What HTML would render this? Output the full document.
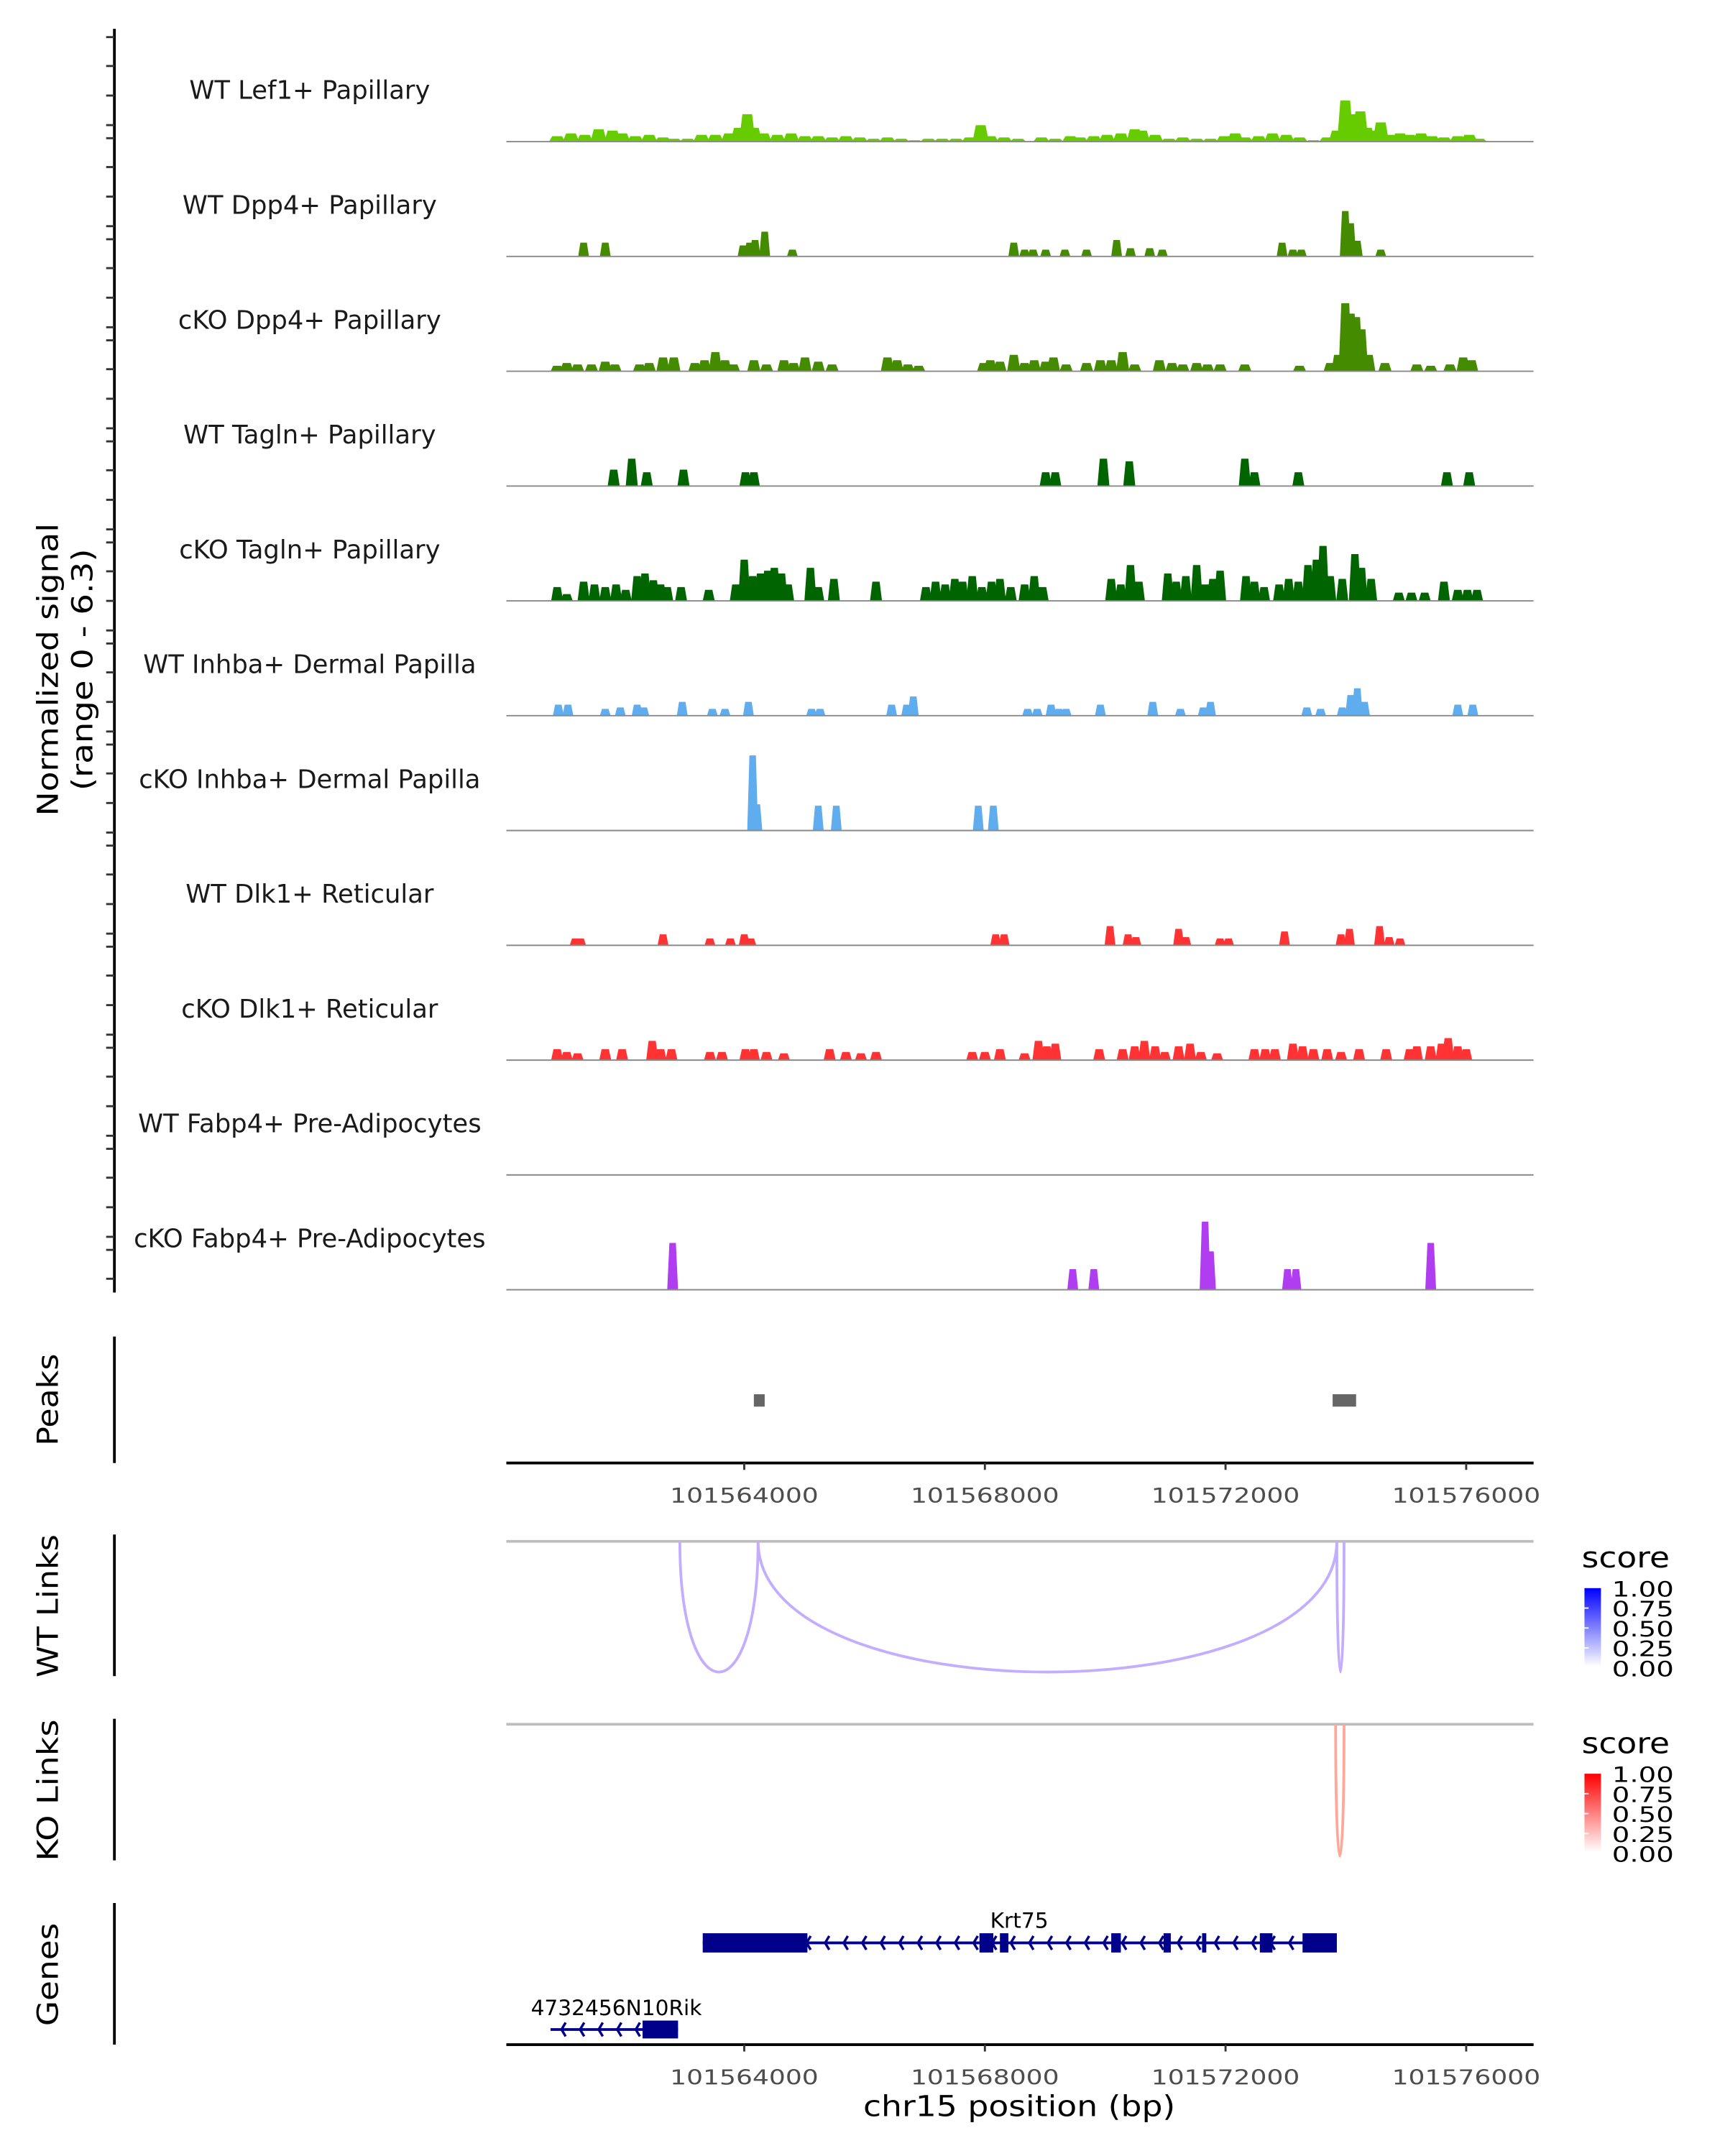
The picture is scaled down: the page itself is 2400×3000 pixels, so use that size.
<!DOCTYPE html>
<html><head><meta charset="utf-8"><style>
html,body{margin:0;padding:0;background:#fff;}
svg{display:block;}
text{font-family:"DejaVu Sans","Liberation Sans",sans-serif;}
</style></head><body>
<svg id="chart" xmlns="http://www.w3.org/2000/svg" width="2400" height="3000" viewBox="0 0 1254 1568">
<rect x="0" y="0" width="1254" height="1568" fill="#fff"/>
</svg>
<script>
// ---------- data (positions in kb offset from 101560000) ----------
const trackNames = ["WT Lef1+ Papillary","WT Dpp4+ Papillary","cKO Dpp4+ Papillary","WT Tagln+ Papillary","cKO Tagln+ Papillary","WT Inhba+ Dermal Papilla","cKO Inhba+ Dermal Papilla","WT Dlk1+ Reticular","cKO Dlk1+ Reticular","WT Fabp4+ Pre-Adipocytes","cKO Fabp4+ Pre-Adipocytes"];
const lef1Pos = [0.89,1.12,1.35,1.58,1.81,1.97,2.19,2.42,2.65,2.83,3.06,3.29,3.52,3.75,3.91,4.05,4.16,4.32,4.55,4.78,5.01,5.23,5.46,5.69,5.92,6.15,6.38,6.61,6.83,7.06,7.29,7.52,7.75,7.93,8.09,8.32,8.55,8.94,9.17,9.42,9.58,9.81,10.03,10.26,10.49,10.61,10.83,11.06,11.29,11.52,11.75,11.98,12.16,12.32,12.55,12.78,13.01,13.23,13.46,13.69,13.85,13.99,14.13,14.24,14.35,14.49,14.58,14.72,14.9,15.06,15.25,15.43,15.63,15.86,16.05,16.21];
const lef1Val = [0.31,0.47,0.39,0.71,0.63,0.47,0.31,0.39,0.24,0.16,0.16,0.39,0.39,0.47,0.79,1.57,0.79,0.47,0.39,0.47,0.31,0.31,0.24,0.31,0.24,0.16,0.24,0.16,0.08,0.16,0.16,0.16,0.24,0.94,0.31,0.24,0.16,0.24,0.16,0.31,0.24,0.31,0.39,0.47,0.71,0.63,0.39,0.16,0.24,0.16,0.16,0.31,0.47,0.24,0.31,0.47,0.39,0.24,0.08,0.24,0.63,2.36,1.57,1.73,0.79,0.63,1.10,0.39,0.47,0.39,0.47,0.31,0.24,0.31,0.39,0.16];
const wtDppPos = [1.33,1.69,3.98,4.09,4.18,4.34,4.8,8.48,8.66,8.8,9.01,9.33,9.69,10.19,10.42,10.74,10.95,12.94,13.12,13.26,13.99,14.08,14.19,14.58];
const wtDppVal = [0.79,0.79,0.63,0.79,0.94,1.42,0.39,0.79,0.39,0.39,0.39,0.39,0.39,0.94,0.47,0.47,0.39,0.79,0.39,0.39,2.6,1.9,0.9,0.39];
const koDppPos = [0.89,1.05,1.23,1.46,1.69,1.85,2.26,2.42,2.65,2.83,3.18,3.34,3.52,3.68,3.82,4.16,4.37,4.66,4.82,5.01,5.23,5.46,6.38,6.54,6.72,6.9,7.98,8.09,8.25,8.48,8.66,8.82,9.01,9.14,9.35,9.69,9.92,10.1,10.29,10.49,10.9,11.11,11.29,11.52,11.7,11.91,12.32,13.23,13.74,13.87,13.99,14.08,14.17,14.26,14.38,14.65,15.18,15.41,15.73,15.95,16.09];
const koDppVal = [0.31,0.47,0.39,0.39,0.55,0.39,0.39,0.47,0.79,0.79,0.47,0.63,1.1,0.63,0.39,0.63,0.39,0.63,0.47,0.79,0.55,0.39,0.79,0.63,0.39,0.31,0.47,0.63,0.55,0.94,0.47,0.63,0.55,0.79,0.39,0.47,0.63,0.63,1.1,0.39,0.63,0.47,0.39,0.47,0.39,0.39,0.39,0.31,0.47,0.94,3.9,3.3,3.1,2.4,0.94,0.47,0.39,0.31,0.39,0.79,0.63];
const wtTagPos = [1.83,2.13,2.38,2.99,4.02,4.16,9.01,9.17,9.97,10.4,12.32,12.48,13.21,15.68,16.05];
const wtTagVal = [0.94,1.57,0.79,0.94,0.79,0.79,0.79,0.79,1.57,1.42,1.57,0.79,0.79,0.79,0.79];
const koTagPos = [0.89,1.05,1.33,1.51,1.69,1.87,2.03,2.22,2.35,2.49,2.61,2.72,2.95,3.41,3.86,4.0,4.14,4.27,4.39,4.5,4.62,4.73,5.1,5.23,5.49,6.19,7.02,7.18,7.34,7.5,7.63,7.79,7.95,8.11,8.25,8.43,8.66,8.82,8.96,10.1,10.26,10.42,10.56,11.04,11.18,11.34,11.52,11.66,11.79,11.91,12.34,12.48,12.64,12.89,13.05,13.21,13.37,13.51,13.62,13.74,13.94,14.15,14.26,14.42,14.88,15.09,15.31,15.63,15.86,16.02,16.18];
const koTagVal = [0.79,0.39,1.1,0.94,0.79,0.94,0.63,1.42,1.57,1.18,0.94,0.79,0.79,0.63,0.94,2.36,1.42,1.57,1.73,1.89,1.57,0.94,1.89,0.79,1.26,1.1,0.79,1.1,0.94,1.26,1.1,1.42,0.79,1.1,1.26,0.79,0.94,1.42,0.79,1.26,0.94,2.05,1.1,1.57,1.1,1.42,2.05,0.94,1.26,1.73,1.42,1.1,0.79,0.94,1.26,1.1,2.05,2.36,3.15,1.42,1.26,2.68,1.89,1.26,0.47,0.47,0.47,1.1,0.63,0.63,0.63];
const wtInhPos = [0.91,1.07,1.69,1.94,2.22,2.33,2.97,3.47,3.68,4.07,5.12,5.26,6.45,6.7,6.81,8.71,8.87,9.1,9.23,9.35,9.92,10.79,11.25,11.63,11.75,13.35,13.58,13.94,14.08,14.19,14.31,15.86,16.11];
const wtInhVal = [0.63,0.63,0.39,0.47,0.63,0.47,0.79,0.39,0.39,0.79,0.39,0.39,0.63,0.63,1.1,0.39,0.39,0.63,0.39,0.39,0.63,0.79,0.39,0.47,0.79,0.47,0.39,0.47,1.18,1.57,0.79,0.63,0.63];
const koInhPos = [4.14,4.21,5.23,5.53,7.89,8.14];
const koInhVal = [4.3,1.5,1.42,1.42,1.42,1.42];
const wtDlkPos = [1.19,1.28,2.65,3.43,3.77,4.0,4.11,8.18,8.32,10.08,10.38,10.51,11.22,11.34,11.91,12.05,12.98,13.92,14.06,14.56,14.72,14.9];
const wtDlkVal = [0.39,0.39,0.63,0.39,0.39,0.63,0.39,0.63,0.63,1.1,0.63,0.47,0.94,0.47,0.39,0.39,0.79,0.63,0.94,1.1,0.47,0.39];
const koDlkPos = [0.89,1.05,1.23,1.69,1.97,2.47,2.61,2.79,3.43,3.63,4.02,4.16,4.37,4.66,5.42,5.69,5.94,6.19,7.79,8.0,8.25,8.66,8.89,9.03,9.17,9.9,10.29,10.49,10.65,10.83,10.99,11.22,11.41,11.59,11.86,12.48,12.66,12.82,13.12,13.28,13.46,13.69,13.92,14.22,14.67,15.06,15.18,15.41,15.59,15.7,15.86,16.0];
const koDlkVal = [0.63,0.47,0.39,0.63,0.63,1.1,0.63,0.63,0.47,0.47,0.63,0.63,0.47,0.39,0.63,0.47,0.39,0.47,0.47,0.47,0.63,0.39,1.1,0.79,0.94,0.63,0.63,0.79,1.1,0.79,0.47,0.79,0.94,0.47,0.39,0.63,0.63,0.63,0.94,0.79,0.63,0.63,0.47,0.63,0.63,0.63,0.79,0.79,0.94,1.26,0.79,0.63];
const wtFabPos = [];
const wtFabVal = [];
const koFabPos = [2.81,9.46,9.81,11.66,11.75,13.03,13.17,15.41];
const koFabVal = [2.68,1.18,1.18,3.9,2.2,1.18,1.18,2.68];
const peakStart = [4.16,13.78];
const peakEnd = [4.34,14.17];
const wtLinkStart = [2.93,4.23,13.85];
const wtLinkEnd = [4.23,13.85,13.97];
const wtLinkScore = [0.4,0.4,0.4];
const koLinkStart = [13.83];
const koLinkEnd = [13.97];
const koLinkScore = [0.4];
const xTickKb = [4,8,12,16];
const xTickLabels = ["101564000","101568000","101572000","101576000"];
const legendLabels = ["1.00","0.75","0.50","0.25","0.00"];
const krtExonStart = [3.31,7.91,8.25,10.1,10.97,11.61,12.57,13.28];
const krtExonEnd = [5.05,8.14,8.39,10.26,11.09,11.68,12.78,13.85];
const rikExonStart = [2.31];
const rikExonEnd = [2.9];

// ---------- helpers ----------
const NS = "http://www.w3.org/2000/svg";
const svg = document.getElementById('chart');
const X0 = 541, PXKB = 43.75;
function xs(kb){ return X0 + (kb - 4) * PXKB; }
function mk(tag, attrs, parent){ const e = document.createElementNS(NS, tag); for (const k in attrs) e.setAttribute(k, attrs[k]); (parent||svg).appendChild(e); return e; }
const SIG = 80 / 6.3;

const tracks = [
 {pos:lef1Pos,val:lef1Val,col:"#66cc00",w:0.27,slug:"wt-lef1"},
 {pos:wtDppPos,val:wtDppVal,col:"#448b00",w:0.18,slug:"wt-dpp4"},
 {pos:koDppPos,val:koDppVal,col:"#448b00",w:0.22,slug:"cko-dpp4"},
 {pos:wtTagPos,val:wtTagVal,col:"#006400",w:0.2,slug:"wt-tagln"},
 {pos:koTagPos,val:koTagVal,col:"#006400",w:0.2,slug:"cko-tagln"},
 {pos:wtInhPos,val:wtInhVal,col:"#5fadee",w:0.18,slug:"wt-inhba"},
 {pos:koInhPos,val:koInhVal,col:"#5fadee",w:0.18,slug:"cko-inhba"},
 {pos:wtDlkPos,val:wtDlkVal,col:"#ff3333",w:0.18,slug:"wt-dlk1"},
 {pos:koDlkPos,val:koDlkVal,col:"#ff3333",w:0.2,slug:"cko-dlk1"},
 {pos:wtFabPos,val:wtFabVal,col:"#b03ef0",w:0.18,slug:"wt-fabp4"},
 {pos:koFabPos,val:koFabVal,col:"#b03ef0",w:0.18,slug:"cko-fabp4"}
];

// ---------- left y axis ----------
let el = mk('line',{x1:83,y1:21,x2:83,y2:940,stroke:"#000","stroke-width":2});


for (let k = 0; k < 13; k++) {
  [0,21,42.5,64].forEach(o => {
    const y = 27 + 73.5*k + o;
    if (y > 940) return;
    const t = mk('line',{x1:77,y1:y,x2:83,y2:y,stroke:"#333","stroke-width":1.5});
    
    
  });
}
el = mk('text',{x:0,y:0,"font-size":21,"text-anchor":"middle",transform:"translate(42,487) rotate(-90)",fill:"#000",textLength:213,lengthAdjust:"spacingAndGlyphs"});
el.textContent = "Normalized signal";


el = mk('text',{x:0,y:0,"font-size":21,"text-anchor":"middle",transform:"translate(67,487) rotate(-90)",fill:"#000",textLength:176,lengthAdjust:"spacingAndGlyphs"});
el.textContent = "(range 0 - 6.3)";



// ---------- coverage tracks ----------
tracks.forEach((tr, i) => {
  const base = 103 + i * 83.5;
  const g = mk('g',{});
  
  
  const lab = mk('text',{x:225,y:base-31,"font-size":18.5,"text-anchor":"middle",fill:"#1a1a1a"}, g);
  lab.textContent = trackNames[i];
  
  
  tr.pos.forEach((p, j) => {
    const v = tr.val[j] * SIG;
    const a = xs(p - tr.w/2), b = xs(p + tr.w/2), d = (b - a) * 0.2;
    const poly = mk('polygon',{points:`${a},${base} ${a+d},${base-v} ${b-d},${base-v} ${b},${base}`,fill:tr.col}, g);
    
    
  });
  const bl = mk('line',{x1:368,y1:base,x2:1115,y2:base,stroke:"#8a8a8a","stroke-width":1}, g);
  
  
});

// ---------- side panel axes & titles ----------
const sides = [[972,1064,"Peaks",1018,67,"peaks"],[1116,1219,"WT Links",1168,104,"wt-links"],[1250,1353,"KO Links",1302,103,"ko-links"],[1384,1487,"Genes",1436,75,"genes"]];
sides.forEach(s => {
  const l = mk('line',{x1:83,y1:s[0],x2:83,y2:s[1],stroke:"#000","stroke-width":2});
  
  
  const t = mk('text',{x:0,y:0,"font-size":21,"text-anchor":"middle",transform:`translate(42,${s[3]}) rotate(-90)`,fill:"#000",textLength:s[4],lengthAdjust:"spacingAndGlyphs"});
  t.textContent = s[2];
  
  
});

// ---------- peaks ----------
peakStart.forEach((s, i) => {
  const r = mk('rect',{x:xs(s),y:1014,width:xs(peakEnd[i])-xs(s),height:9,fill:"#666"});
  
  
});

// ---------- x axes ----------
function xAxis(y, nm){
  const l = mk('line',{x1:368,y1:y,x2:1115,y2:y,stroke:"#000","stroke-width":2});
  
  
  xTickKb.forEach((k, i) => {
    const t = mk('line',{x1:xs(k),y1:y,x2:xs(k),y2:y+5,stroke:"#333","stroke-width":1.5});
    
    
    const tx = mk('text',{x:xs(k),y:y+29,"font-size":15,"text-anchor":"middle",fill:"#4d4d4d",textLength:108,lengthAdjust:"spacingAndGlyphs"});
    tx.textContent = xTickLabels[i];
    
    
  });
}
xAxis(1064,'peaks');
xAxis(1487,'genes');
el = mk('text',{x:741,y:1539,"font-size":21,"text-anchor":"middle",fill:"#000",textLength:227,lengthAdjust:"spacingAndGlyphs"});
el.textContent = "chr15 position (bp)";



// ---------- links ----------
function mix(c, s){ return `rgb(${Math.round(255+(c[0]-255)*s)},${Math.round(255+(c[1]-255)*s)},${Math.round(255+(c[2]-255)*s)})`; }
function links(starts, ends, scores, y0, ybot, col, nm){
  const l = mk('line',{x1:368,y1:y0,x2:1115,y2:y0,stroke:"#bdbdbd","stroke-width":2});
  
  
  starts.forEach((s, i) => {
    const a = xs(s), b = xs(ends[i]);
    const cy = y0 + (ybot - y0) / 0.75;
    const p = mk('path',{d:`M${a},${y0} C${a},${cy} ${b},${cy} ${b},${y0}`,fill:"none",stroke:mix(col, scores[i]),"stroke-width":2});
    
    
  });
}
links(wtLinkStart, wtLinkEnd, wtLinkScore, 1121, 1216, [102,51,255], 'wt-link');
links(koLinkStart, koLinkEnd, koLinkScore, 1254, 1350, [255,34,0], 'ko-link');

// ---------- legends ----------
const defs = mk('defs',{});
defs.innerHTML = '<linearGradient id="gb" x1="0" y1="1" x2="0" y2="0"><stop offset="0" stop-color="#fff"/><stop offset="1" stop-color="#0000ff"/></linearGradient><linearGradient id="gr" x1="0" y1="1" x2="0" y2="0"><stop offset="0" stop-color="#fff"/><stop offset="1" stop-color="#ff0000"/></linearGradient>';
function legend(y, grad, nm){
  const g = mk('g',{});
  
  
  const t = mk('text',{x:1150,y:y-15,"font-size":21,fill:"#000",textLength:64,lengthAdjust:"spacingAndGlyphs"}, g);
  t.textContent = "score";
  
  
  const r = mk('rect',{x:1152,y:y,width:12,height:57,fill:`url(#${grad})`}, g);
  
  
  legendLabels.forEach((lb, i) => {
    const yy = y + i * 14.5;
    if (i > 0 && i < 4) { const tk = mk('line',{x1:1152,y1:yy,x2:1155,y2:yy,stroke:"#fff"}, g);   }
    const tx = mk('text',{x:1172,y:yy+6,"font-size":15.5,fill:"#000",textLength:45,lengthAdjust:"spacingAndGlyphs"}, g);
    tx.textContent = lb;
    
    
  });
}
legend(1155,'gb','wt-score-legend');
legend(1290,'gr','ko-score-legend');

// ---------- genes ----------
function gene(name, start, end, exS, exE, y, h, lx, nm){
  const g = mk('g',{});
  
  
  const a = xs(start), b = xs(end);
  const ln = mk('line',{x1:a,y1:y,x2:b,y2:y,stroke:"#00008b","stroke-width":2}, g);
  
  
  for (let x = a + 8; x < b - 4; x += 13.5) {
    const c = mk('polyline',{points:`${x+3},${y-5} ${x},${y} ${x+3},${y+5}`,fill:"none",stroke:"#00008b","stroke-width":1.8}, g);
    
    
  }
  exS.forEach((s, i) => {
    const r = mk('rect',{x:xs(s),y:y-h/2,width:xs(exE[i])-xs(s),height:h,fill:"#00008b"}, g);
    
    
  });
  const t = mk('text',{x:lx,y:y-h/2-4,"font-size":15.5,"text-anchor":"middle",fill:"#000"}, g);
  t.textContent = name;
  
  
}
gene("Krt75", 3.31, 13.85, krtExonStart, krtExonEnd, 1413, 14, 741, 'gene-krt75');
gene("4732456N10Rik", 0.78, 2.9, rikExonStart, rikExonEnd, 1476, 13, 448, 'gene-4732456n10rik');
</script>
</body></html>
